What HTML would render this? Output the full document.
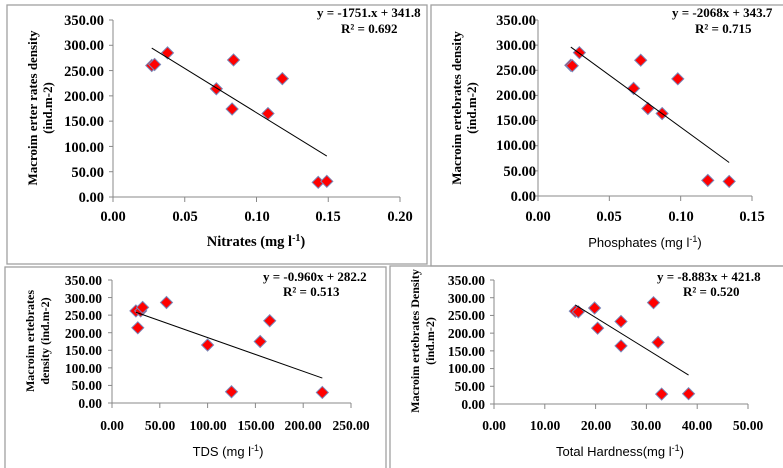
<!DOCTYPE html>
<html><head><meta charset="utf-8"><style>
body{margin:0;background:#fff;}
svg{display:block;}
.t, .t text{font-family:"Liberation Serif","DejaVu Serif",serif;font-weight:bold;font-size:14.5px;fill:#000;}
.s, .s text{font-family:"Liberation Serif","DejaVu Serif",serif;font-weight:bold;font-size:13.5px;fill:#000;}
.e{font-family:"Liberation Serif",serif;font-weight:bold;font-size:13px;fill:#000;}
.yt{font-family:"Liberation Serif",serif;font-weight:bold;font-size:13px;fill:#000;}
.yb{font-family:"Liberation Serif",serif;font-weight:bold;font-size:12px;fill:#000;}
.a{font-family:"Liberation Sans",sans-serif;font-size:13px;fill:#000;}
</style></head><body>
<svg id="c" width="783" height="468" xmlns="http://www.w3.org/2000/svg">
<g fill="none" stroke="#a0a0a0" stroke-width="1.3">
<rect x="7" y="5" width="420" height="259"/>
<rect x="431" y="5" width="360" height="261"/>
<rect x="5" y="267" width="381" height="210"/>
<rect x="390" y="266" width="400" height="210"/>
</g>
<g stroke="#888" stroke-width="1" fill="none" id="axes"></g>
<g id="marks"></g>
<!-- Panel 1 -->
<g class="t" text-anchor="end">
<text x="104" y="25">350.00</text><text x="104" y="50">300.00</text><text x="104" y="76">250.00</text><text x="104" y="101">200.00</text><text x="104" y="126">150.00</text><text x="104" y="152">100.00</text><text x="104" y="177">50.00</text><text x="104" y="202">0.00</text>
</g>
<g class="t" text-anchor="middle">
<text x="113" y="221">0.00</text><text x="185" y="221">0.05</text><text x="257" y="221">0.10</text><text x="328" y="221">0.15</text><text x="400" y="221">0.20</text>
<text x="256" y="246">Nitrates (mg l<tspan dy="-5" font-size="10">-1</tspan><tspan dy="5">)</tspan></text>
</g>
<g class="yt" text-anchor="middle">
<text transform="translate(37,108) rotate(-90)">Macroim erter rates density</text>
<text transform="translate(52,108) rotate(-90)">(ind.m-2)</text>
<text transform="translate(461,108) rotate(-90)">Macroim ertebrates density</text>
<text transform="translate(476,108) rotate(-90)">(ind.m-2)</text>
</g>
<text class="e" x="317" y="17">y = -1751.x + 341.8</text>
<text class="e" x="341" y="33">R² = 0.692</text>
<!-- Panel 2 -->
<g class="t" text-anchor="end">
<text x="536" y="25">350.00</text><text x="536" y="50">300.00</text><text x="536" y="75">250.00</text><text x="536" y="100">200.00</text><text x="536" y="125">150.00</text><text x="536" y="150">100.00</text><text x="536" y="176">50.00</text><text x="536" y="201">0.00</text>
</g>
<g class="t" text-anchor="middle">
<text x="538" y="221">0.00</text><text x="609" y="221">0.05</text><text x="681" y="221">0.10</text><text x="752" y="221">0.15</text>
</g>
<text class="a" x="645" y="247" text-anchor="middle">Phosphates (mg l<tspan dy="-5" font-size="9">-1</tspan><tspan dy="5">)</tspan></text>
<text class="e" x="672" y="17">y = -2068x + 343.7</text>
<text class="e" x="695" y="33">R² = 0.715</text>
<!-- Panel 3 -->
<g class="s" text-anchor="end">
<text x="102" y="285">350.00</text><text x="102" y="303">300.00</text><text x="102" y="320">250.00</text><text x="102" y="338">200.00</text><text x="102" y="355">150.00</text><text x="102" y="373">100.00</text><text x="102" y="390">50.00</text><text x="102" y="408">0.00</text>
</g>
<g class="s" text-anchor="middle">
<text x="112" y="430">0.00</text><text x="160" y="430">50.00</text><text x="208" y="430">100.00</text><text x="256" y="430">150.00</text><text x="303" y="430">200.00</text><text x="351" y="430">250.00</text>
</g>
<g class="yb" text-anchor="middle">
<text transform="translate(34,341) rotate(-90)">Macroim ertebrates</text>
<text transform="translate(49,341) rotate(-90)">density (ind.m-2)</text>
<text transform="translate(419,341) rotate(-90)">Macroim ertebrates Density</text>
<text transform="translate(434,341) rotate(-90)">(ind.m-2)</text>
</g>
<text class="a" x="228" y="456" text-anchor="middle">TDS (mg l<tspan dy="-5" font-size="9">-1</tspan><tspan dy="5">)</tspan></text>
<text class="e" x="263" y="281">y = -0.960x + 282.2</text>
<text class="e" x="283" y="296">R² = 0.513</text>
<!-- Panel 4 -->
<g class="s" text-anchor="end">
<text x="485" y="285">350.00</text><text x="485" y="303">300.00</text><text x="485" y="320">250.00</text><text x="485" y="338">200.00</text><text x="485" y="356">150.00</text><text x="485" y="373">100.00</text><text x="485" y="391">50.00</text><text x="485" y="409">0.00</text>
</g>
<g class="s" text-anchor="middle">
<text x="494" y="430">0.00</text><text x="545" y="430">10.00</text><text x="596" y="430">20.00</text><text x="646" y="430">30.00</text><text x="697" y="430">40.00</text><text x="748" y="430">50.00</text>
</g>
<text class="a" x="620" y="456" text-anchor="middle">Total Hardness(mg l<tspan dy="-5" font-size="9">-1</tspan><tspan dy="5">)</tspan></text>
<text class="e" x="657" y="281">y = -8.883x + 421.8</text>
<text class="e" x="683" y="296">R² = 0.520</text>
</svg>
<script>
var NS="http://www.w3.org/2000/svg";
function el(p,n,a){var e=document.createElementNS(NS,n);for(var k in a)e.setAttribute(k,a[k]);document.getElementById(p).appendChild(e);return e;}
var P=[
 {x0:113,x1:400,xm:0.2,y0:197,y1:20,ticks:4,yt:7,pts:[[0.027,260],[0.029,262],[0.038,285],[0.072,214],[0.083,174],[0.084,271],[0.108,165],[0.118,234],[0.143,29],[0.149,31]],tl:[0.027,0.149],m:-1751,b:341.8},
 {x0:538,x1:752,xm:0.15,y0:196,y1:20,ticks:3,yt:7,pts:[[0.023,260],[0.024,259],[0.029,285],[0.067,214],[0.072,270],[0.077,174],[0.087,164],[0.098,233],[0.119,31],[0.134,29]],tl:[0.023,0.134],m:-2068,b:343.7},
 {x0:112,x1:351,xm:250,y0:403,y1:280,ticks:5,yt:7,pts:[[25,262],[27,214],[30,262],[32,272],[57,286],[100,165],[125,32],[155,175],[165,234],[220,30]],tl:[25,220],m:-0.96,b:282.2},
 {x0:494,x1:748,xm:50,y0:404,y1:280,ticks:5,yt:7,pts:[[16,262],[16.6,260],[19.8,271],[20.4,214],[25,233],[25,164],[31.4,286],[32.3,174],[33,28],[38.3,29]],tl:[16,38.3],m:-8.883,b:421.8}
];
P.forEach(function(p){
 var X=function(v){return p.x0+(p.x1-p.x0)*v/p.xm},Y=function(v){return p.y0+(p.y1-p.y0)*v/350};
 el("axes","line",{x1:p.x0,y1:p.y1,x2:p.x0,y2:p.y0});
 el("axes","line",{x1:p.x0,y1:p.y0,x2:p.x1,y2:p.y0});
 for(var i=0;i<=p.yt;i++){var y=p.y0+(p.y1-p.y0)*i/p.yt;el("axes","line",{x1:p.x0-4,y1:y,x2:p.x0,y2:y});}
 for(var i=0;i<=p.ticks;i++){var x=p.x0+(p.x1-p.x0)*i/p.ticks;el("axes","line",{x1:x,y1:p.y0,x2:x,y2:p.y0+5});}
 p.pts.forEach(function(q){var x=X(q[0]),y=Y(q[1]);
  el("marks","polygon",{points:(x)+","+(y-6)+" "+(x+6)+","+y+" "+x+","+(y+6)+" "+(x-6)+","+y,fill:"#ff0000",stroke:"#7a86b8","stroke-width":1});});
 el("marks","line",{x1:X(p.tl[0]),y1:Y(p.m*p.tl[0]+p.b),x2:X(p.tl[1]),y2:Y(p.m*p.tl[1]+p.b),stroke:"#000","stroke-width":1});
});
</script>
</body></html>
